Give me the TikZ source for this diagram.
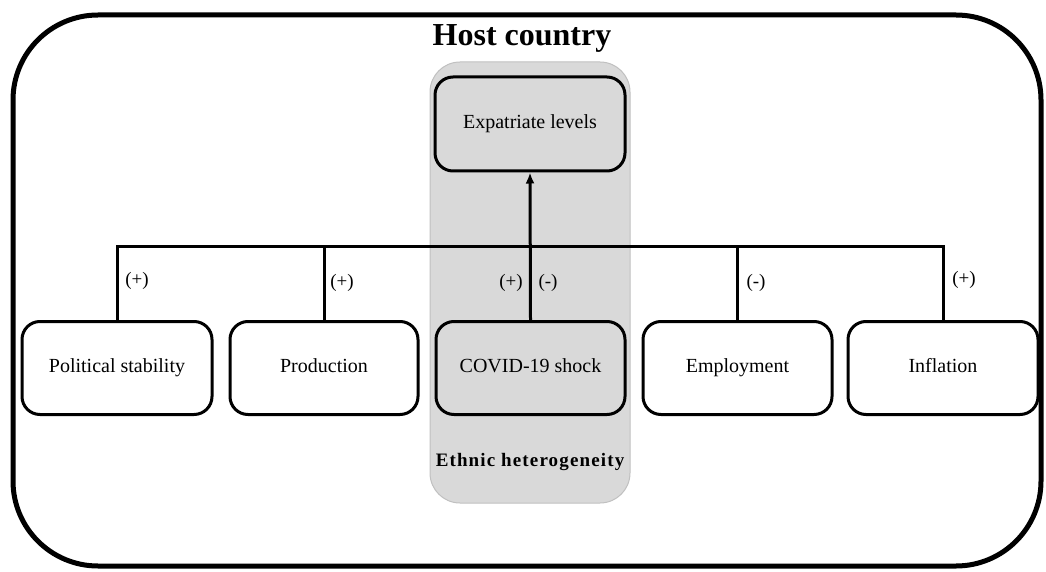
\documentclass[tikz,border=0pt]{standalone}
\usepackage{fontspec}
\setmainfont{Liberation Serif}
\usetikzlibrary{arrows.meta}
\definecolor{colgray}{HTML}{D9D9D9}
\definecolor{colgrayedge}{HTML}{C0C0C0}
\begin{document}
\begin{tikzpicture}[x=1pt,y=-1pt,
  varbox/.style={draw=black, line width=3pt, rounded corners=18pt, minimum width=190pt, minimum height=93pt, inner sep=0pt, font=\fontsize{20}{24}\selectfont, align=center, text height=13.5pt, text depth=4.5pt},
  conn/.style={draw=black, line width=3pt},
  sign/.style={font=\fontsize{19}{22}\selectfont, inner sep=0pt},
]
\useasboundingbox (0,0) rectangle (1046,572);
% outer frame
\draw[line width=5pt, rounded corners=85pt] (13,15) rectangle (1041,566);
\node[font=\bfseries\fontsize{32}{36}\selectfont, inner sep=0pt] (title) at (522,38) {Host country};
% gray column
\draw[fill=colgray, draw=colgrayedge, line width=1pt, rounded corners=30pt] (430,62) rectangle (630,503);
\node[font=\bfseries\fontsize{19}{23}\selectfont\addfontfeature{LetterSpace=6}, inner sep=0pt] (eth) at (530,462) {Ethnic heterogeneity};
% nodes
\node[varbox, fill=colgray, minimum width=190pt, minimum height=94pt] (exp) at (530,124) {Expatriate levels};
\node[varbox, fill=white] (pol) at (117,368) {Political stability};
\node[varbox, fill=white, minimum width=188pt] (prod) at (324,368) {Production};
\node[varbox, fill=colgray, minimum width=189pt] (covid) at (530.5,368) {COVID-19 shock};
\node[varbox, fill=white, minimum width=189pt] (emp) at (737.5,368) {Employment};
\node[varbox, fill=white] (infl) at (943,368) {Inflation};
\coordinate (bus) at (530,246);
% connectors
\draw[conn] (pol.north) -- (pol.north |- bus) -- (infl.north |- bus) -- (infl.north);
\draw[conn] (prod.north) -- (prod.north |- bus);
\draw[conn] (emp.north) -- (emp.north |- bus);
\draw[conn, -{Latex[length=11pt,width=9pt]}] (covid.north) -- (exp.south);
% signs
\node[sign] (s1) at (137,281) {(+)};
\node[sign] (s2) at (342,283) {(+)};
\node[sign] (s3) at (511,283) {(+)};
\node[sign] (s4) at (548,283) {(-)};
\node[sign] (s5) at (756,283) {(-)};
\node[sign] (s6) at (964,280) {(+)};
\end{tikzpicture}
\end{document}
